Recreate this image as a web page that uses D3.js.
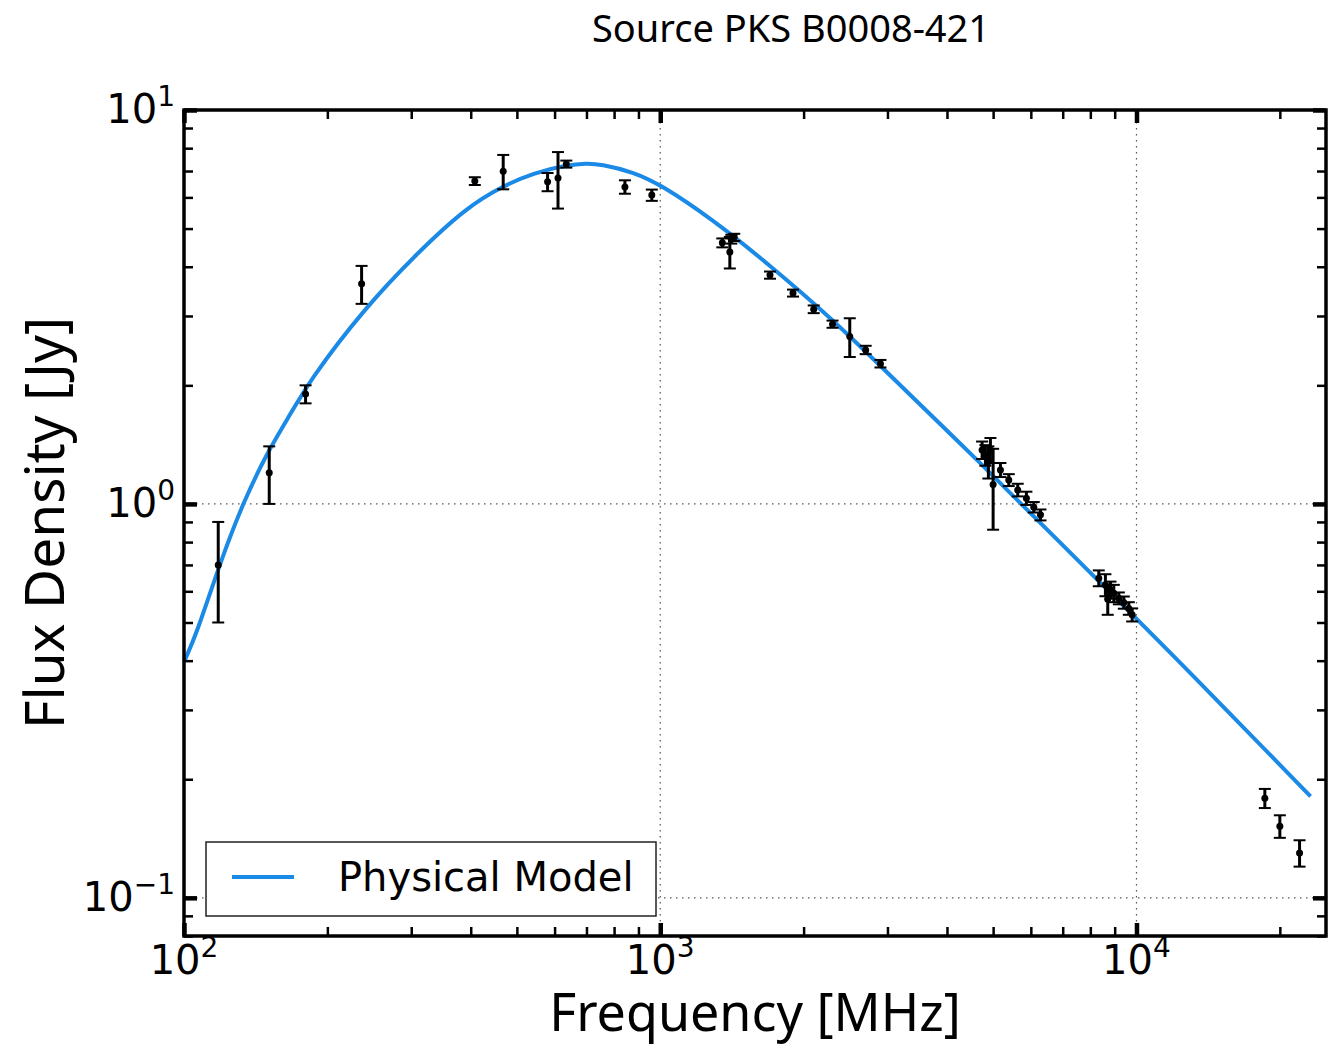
<!DOCTYPE html>
<html>
<head>
<meta charset="utf-8">
<script src="https://cdn.jsdelivr.net/npm/d3@7/dist/d3.min.js"></script>
<style>
  body { margin: 0; background: #fff; }
  svg { display: block; }
</style>
</head>
<body>
<svg id="chart"></svg>
<script>
// observed spectrum: frequency [MHz], flux density [Jy], 1-sigma error
const freq = [118, 151, 180, 236, 408, 468, 580, 610, 635, 843, 960,
  1350, 1400, 1410, 1430, 1700, 1900, 2100, 2300, 2500, 2700, 2900,
  4740, 4817, 4887, 4935, 5000, 5180, 5393, 5632, 5873, 6086, 6286,
  8333, 8605, 8703, 8818, 8962, 9182, 9407, 9636, 9793,
  18600, 20000, 22000];
const flux = [0.70, 1.20, 1.90, 3.62, 6.60, 6.99, 6.57, 6.72, 7.29, 6.38, 6.08,
  4.60, 4.36, 4.70, 4.75, 3.81, 3.43, 3.12, 2.86, 2.66, 2.46, 2.27,
  1.37, 1.33, 1.28, 1.37, 1.12, 1.22, 1.15, 1.085, 1.034, 0.981, 0.938,
  0.648, 0.623, 0.573, 0.605, 0.593, 0.576, 0.562, 0.543, 0.523,
  0.179, 0.152, 0.130];
const fluxErr = [0.2, 0.2, 0.1, 0.4, 0.15, 0.7, 0.35, 1.1, 0.15, 0.25, 0.2,
  0.12, 0.4, 0.12, 0.1, 0.08, 0.07, 0.07, 0.06, 0.3, 0.06, 0.05,
  0.07, 0.08, 0.12, 0.1, 0.26, 0.05, 0.04, 0.04, 0.04, 0.03, 0.03,
  0.03, 0.04, 0.05, 0.03, 0.03, 0.02, 0.02, 0.02, 0.02,
  0.01, 0.01, 0.01];

// physical model curve
const modelFreq = [100, 106.5, 119, 133, 149.4, 164.6, 183.9, 237.7, 308.8, 393,
  468, 541, 638, 700, 748, 878, 1005, 1274, 1678, 2309, 2927, 4702, 6924,
  10048, 12373, 23200];
const modelFlux = [0.397, 0.471, 0.708, 1.006, 1.347, 1.634, 2.064, 3.108, 4.336, 5.674,
  6.414, 6.92, 7.25, 7.32, 7.29, 6.96, 6.45, 5.32, 4.09, 2.93, 2.214, 1.271, 0.796,
  0.508, 0.395, 0.181];

const xMajor = [100, 1000, 10000];
const yMajor = [0.1, 1, 10];
const xExp = ["2", "3", "4"];
const yExp = ["\u22121", "0", "1"];

const width = 1337;
const height = 1048;
const margin = { top: 110, right: 11, bottom: 112, left: 184 };
const iw = width - margin.left - margin.right;
const ih = height - margin.top - margin.bottom;

const svg = d3.select("#chart").attr("width", width).attr("height", height);

const x = d3.scaleLog().domain([100, 25000]).range([0, iw]);
const y = d3.scaleLog().domain([0.08, 10]).range([ih, 0]);

const xMinor = x.ticks().filter((d) => !xMajor.includes(d));
const yMinor = y.ticks().filter((d) => !yMajor.includes(d));

const g = svg.append("g")
  .attr("transform", `translate(${margin.left},${margin.top})`);

// dotted grid at the major ticks
g.append("g")
  .selectAll("line")
  .data(xMajor.slice(1))
  .join("line")
  .attr("x1", (d) => x(d)).attr("x2", (d) => x(d))
  .attr("y1", 0).attr("y2", ih)
  .attr("stroke", "#555").attr("stroke-width", 1.2)
  .attr("stroke-dasharray", "1.5,4.5");
g.append("g")
  .selectAll("line")
  .data(yMajor.slice(0, 2))
  .join("line")
  .attr("x1", 0).attr("x2", iw)
  .attr("y1", (d) => y(d)).attr("y2", (d) => y(d))
  .attr("stroke", "#555").attr("stroke-width", 1.2)
  .attr("stroke-dasharray", "1.5,4.5");

// model line (B-spline smooths the reading noise)
const line = d3.line()
  .x((d, i) => x(modelFreq[i]))
  .y((d, i) => y(modelFlux[i]))
  .curve(d3.curveBasis);

g.append("path")
  .datum(modelFreq)
  .attr("d", line)
  .attr("fill", "none")
  .attr("stroke", "#1a8ae6")
  .attr("stroke-width", 4);

// error bars + points
const obs = freq.map((f, i) => ({ f, s: flux[i], e: fluxErr[i] }));
const pts = g.append("g").selectAll("g").data(obs).join("g");

pts.append("line")
  .attr("x1", (d) => x(d.f)).attr("x2", (d) => x(d.f))
  .attr("y1", (d) => y(d.s + d.e)).attr("y2", (d) => y(d.s - d.e))
  .attr("stroke", "#000").attr("stroke-width", 3);
pts.selectAll(".cap")
  .data((d) => [d.s + d.e, d.s - d.e].map((v) => ({ f: d.f, v })))
  .join("line")
  .attr("class", "cap")
  .attr("x1", (d) => x(d.f) - 6).attr("x2", (d) => x(d.f) + 6)
  .attr("y1", (d) => y(d.v)).attr("y2", (d) => y(d.v))
  .attr("stroke", "#000").attr("stroke-width", 2);
pts.append("circle")
  .attr("cx", (d) => x(d.f)).attr("cy", (d) => y(d.s))
  .attr("r", 3.5).attr("fill", "#000");

// ticks on all four sides, pointing inward
function tickAxis(axis, values, size, w, transform) {
  const a = g.append("g")
    .attr("transform", transform)
    .call(axis.tickValues(values).tickSize(-size).tickFormat(""));
  a.select(".domain").remove();
  a.selectAll(".tick line").attr("stroke", "#000").attr("stroke-width", w);
}
tickAxis(d3.axisBottom(x), xMinor, 9, 2.5, `translate(0,${ih})`);
tickAxis(d3.axisBottom(x), xMajor, 13, 4.5, `translate(0,${ih})`);
tickAxis(d3.axisTop(x), xMinor, 9, 2.5, "translate(0,0)");
tickAxis(d3.axisTop(x), xMajor, 13, 4.5, "translate(0,0)");
tickAxis(d3.axisLeft(y), yMinor, 9, 2.5, "translate(0,0)");
tickAxis(d3.axisLeft(y), yMajor, 13, 4.5, "translate(0,0)");
tickAxis(d3.axisRight(y), yMinor, 9, 2.5, `translate(${iw},0)`);
tickAxis(d3.axisRight(y), yMajor, 13, 4.5, `translate(${iw},0)`);

// frame
g.append("rect")
  .attr("width", iw).attr("height", ih)
  .attr("fill", "none").attr("stroke", "#000").attr("stroke-width", 3.5);

// tick labels with superscripts
const tickFont = "DejaVu Sans, sans-serif";
const xl = g.append("g").selectAll("text").data(xMajor).join("text")
  .attr("x", (d) => x(d)).attr("y", ih + 38)
  .attr("text-anchor", "middle")
  .attr("font-family", tickFont).attr("font-size", 40);
xl.append("tspan").text("10");
xl.append("tspan").text((d, i) => xExp[i])
  .attr("font-size", 28).attr("dy", -17);

const yl = g.append("g").selectAll("text").data(yMajor).join("text")
  .attr("x", -9).attr("y", (d) => y(d) + 13)
  .attr("text-anchor", "end")
  .attr("font-family", tickFont).attr("font-size", 40);
yl.append("tspan").text("10");
yl.append("tspan").text((d, i) => yExp[i])
  .attr("font-size", 28).attr("dy", -17);

// legend
const lg = g.append("g").attr("transform", "translate(22,732)");
lg.append("rect")
  .attr("width", 450).attr("height", 74)
  .attr("fill", "#fff").attr("stroke", "#222").attr("stroke-width", 1.5);
lg.append("line")
  .attr("x1", 26).attr("x2", 88).attr("y1", 35).attr("y2", 35)
  .attr("stroke", "#1a8ae6").attr("stroke-width", 4);
lg.append("text")
  .attr("x", 132).attr("y", 49)
  .attr("font-family", tickFont).attr("font-size", 40)
  .text("Physical Model");

// titles
const labelFont = "Noto Sans, Open Sans, sans-serif";
svg.append("text")
  .attr("x", 791).attr("y", 42)
  .attr("text-anchor", "middle")
  .attr("font-family", labelFont).attr("font-size", 38)
  .text("Source PKS B0008-421");
svg.append("text")
  .attr("x", margin.left + iw / 2).attr("y", 1031)
  .attr("text-anchor", "middle")
  .attr("font-family", labelFont).attr("font-size", 52)
  .text("Frequency [MHz]");
svg.append("text")
  .attr("transform", `translate(64,${margin.top + ih / 2}) rotate(-90)`)
  .attr("text-anchor", "middle")
  .attr("font-family", labelFont).attr("font-size", 55)
  .text("Flux Density [Jy]");
</script>
</body>
</html>
